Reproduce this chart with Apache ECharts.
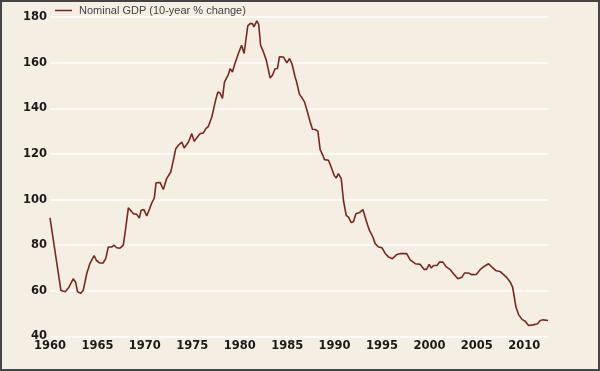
<!DOCTYPE html>
<html>
<head>
<meta charset="utf-8">
<script src="https://cdn.jsdelivr.net/npm/echarts@6/dist/echarts.min.js"></script>
<style>
html,body{margin:0;padding:0;background:#F5EEE2;}
#c{position:absolute;left:0;top:0;width:600px;height:371px;}
#b{position:absolute;left:0;top:0;width:600px;height:371px;box-sizing:border-box;border:2px solid #444;pointer-events:none;}
</style>
</head>
<body>
<div id="c"></div>
<div id="b"></div>
<script>
const seriesName = 'Nominal GDP (10-year % change)';
const years = [1960.0,1961.15,1961.6,1962.0,1962.45,1962.7,1962.9,1963.25,1963.5,1963.87,1964.2,1964.65,1964.9,1965.25,1965.6,1965.87,1966.15,1966.5,1966.75,1967.03,1967.38,1967.73,1968.0,1968.26,1968.44,1968.8,1969.15,1969.42,1969.6,1969.9,1970.2,1970.44,1970.73,1971.0,1971.18,1971.6,1971.95,1972.3,1972.73,1973.0,1973.26,1973.53,1973.7,1973.9,1974.14,1974.6,1974.95,1975.2,1975.54,1975.82,1976.17,1976.43,1976.7,1977.06,1977.3,1977.48,1977.7,1977.93,1978.18,1978.39,1978.8,1979.0,1979.23,1979.5,1979.86,1980.2,1980.46,1980.67,1980.85,1981.1,1981.34,1981.5,1981.8,1982.0,1982.2,1982.5,1982.8,1983.03,1983.2,1983.45,1983.73,1983.98,1984.19,1984.6,1984.8,1984.97,1985.25,1985.5,1985.84,1986.0,1986.3,1986.55,1986.83,1987.14,1987.43,1987.67,1987.95,1988.24,1988.48,1988.76,1988.94,1989.36,1989.6,1989.96,1990.17,1990.4,1990.7,1990.94,1991.22,1991.47,1991.75,1992.0,1992.25,1992.63,1992.98,1993.23,1993.47,1993.68,1994.04,1994.28,1994.63,1994.99,1995.34,1995.7,1996.1,1996.3,1996.55,1996.9,1997.6,1997.97,1998.5,1999.03,1999.45,1999.7,1999.98,2000.19,2000.43,2000.8,2001.07,2001.42,2001.77,2002.2,2002.54,2003.0,2003.43,2003.7,2004.12,2004.48,2004.94,2005.36,2005.8,2006.23,2006.6,2007.0,2007.47,2007.82,2008.17,2008.52,2008.77,2008.95,2009.12,2009.4,2009.76,2010.1,2010.45,2010.92,2011.4,2011.69,2012.0,2012.5];
const gdpChange = [92,60.2,59.6,61.6,65.3,63.8,59.6,59.0,60.2,67.5,71.9,75.4,73.3,72.2,72.2,74.1,79.2,79.2,80.0,78.9,78.7,80.0,88.0,96.4,96.7,93.8,93.5,91.9,95.3,95.6,92.8,95.3,98.5,100.7,107.4,107.5,104.4,109.2,112.1,117.2,122.3,123.8,123.0,125.2,122.6,125.2,128.9,125.5,127.4,128.9,129.2,131.1,132.1,136.2,140.6,143.9,147.1,146.7,144.3,151.5,154.8,157.4,155.9,159.6,164.0,167.6,164.0,164.7,176.1,177.1,177.1,175.7,178.3,176.8,167.6,164.7,161.1,156.7,153.3,154.5,157.3,157.4,162.6,162.5,162.2,159.9,161.8,159.6,153.7,151.5,146.1,144.7,142.8,138.4,134.0,130.8,130.7,130.0,121.9,119.4,117.5,117.2,114.7,110.6,109.4,111.4,109.2,99.6,93.1,92.3,89.9,90.4,93.8,94.3,95.6,92.3,89.0,86.5,83.6,80.7,79.2,78.9,76.4,74.8,74.1,74.4,75.9,76.3,76.3,73.6,71.9,71.6,69.4,69.4,71.6,70.0,71.1,71.1,72.6,72.6,70.5,69.3,67.5,65.3,66.0,67.8,67.8,67.1,67.2,69.4,70.8,71.9,70.4,68.9,68.4,67.1,65.8,63.8,61.6,57.2,52.9,49.6,47.5,46.7,44.8,45.1,45.6,47.0,47.3,47.0];
const xTicks = [1960,1965,1970,1975,1980,1985,1990,1995,2000,2005,2010];
const yTicks = [40,60,80,100,120,140,160,180];

const chart = echarts.init(document.getElementById('c'), null, {renderer:'canvas'});
const lineColor = '#7A281F';
const labelFont = {fontFamily:'DejaVu Sans', fontWeight:'bold', fontSize:11.5, color:'#1a1a1a'};
chart.setOption({
  backgroundColor:'#F5EEE2',
  animation:false,
  grid:{left:50, right:52, top:17, bottom:34.5, containLabel:false},
  legend:{
    show:true, left:50, top:0, icon:'rect', itemWidth:17, itemHeight:1.5,
    textStyle:{fontFamily:'Liberation Sans', fontSize:11, color:'#444', padding:[0,0,0,2]},
    data:[{name:seriesName, itemStyle:{color:lineColor}}]
  },
  xAxis:{
    type:'value', min:xTicks[0], max:2012.5, interval:5,
    axisLine:{show:false}, axisTick:{show:false}, splitLine:{show:false},
    axisLabel:Object.assign({margin:4, formatter:v => xTicks.includes(v) ? String(v) : '', showMaxLabel:false}, labelFont)
  },
  yAxis:{
    type:'value', min:yTicks[0], max:yTicks[yTicks.length-1], interval:20,
    axisLine:{show:false}, axisTick:{show:false},
    splitLine:{show:true, lineStyle:{color:'#ffffff', width:1.5}},
    axisLabel:Object.assign({margin:3}, labelFont)
  },
  series:[{
    name:seriesName, type:'line', showSymbol:false, symbol:'none',
    lineStyle:{color:lineColor, width:1.6}, itemStyle:{color:lineColor},
    data:years.map((y,i)=>[y, gdpChange[i]])
  }]
});
</script>
</body>
</html>
